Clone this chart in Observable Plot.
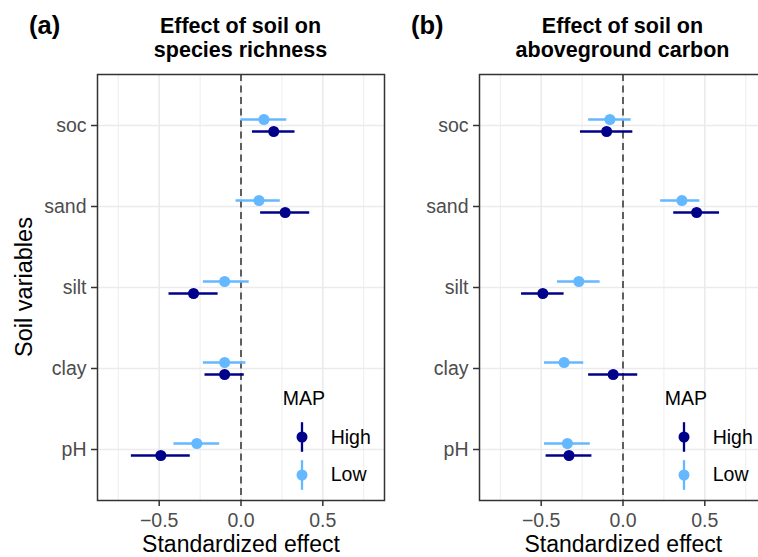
<!DOCTYPE html>
<html>
<head>
<meta charset="utf-8">
<script src="https://cdn.jsdelivr.net/npm/d3@7"></script>
<script src="https://cdn.jsdelivr.net/npm/@observablehq/plot@0.6"></script>
<style>
  html, body { margin: 0; padding: 0; background: #fff; }
  #wrap { position: relative; width: 758px; height: 557px; overflow: hidden; background: #fff;
          font-family: "Liberation Sans", Arial, sans-serif; color: #000; }
  .abs { position: absolute; white-space: nowrap; }
  .panel { position: absolute; top: 0; }
  .panel svg { max-width: none !important; }
  .panel svg text { fill: #4d4d4d; }
</style>
</head>
<body>
<div id="wrap">
  <div id="pa" class="panel" style="left:0px;width:386px"></div>
  <div id="pb" class="panel" style="left:390px;width:378px"></div>
</div>
<script>
// ---------- data ----------
const variables = ["soc", "sand", "silt", "clay", "pH"];
const seriesNames = ["High", "Low"];
const seriesColors = ["#00008B", "#63B8FF"];
const xTicks = [-0.5, 0, 0.5];
const xMinorTicks = [-0.75, -0.25, 0.25, 0.75];
const referenceLine = [0];

// Panel (a): species richness
const richHighEst = [0.20, 0.27, -0.29, -0.10, -0.49];
const richHighLo  = [0.07, 0.12, -0.44, -0.22, -0.67];
const richHighHi  = [0.33, 0.42, -0.14, 0.02, -0.31];
const richLowEst  = [0.14, 0.11, -0.10, -0.10, -0.27];
const richLowLo   = [0.00, -0.03, -0.23, -0.23, -0.41];
const richLowHi   = [0.28, 0.24, 0.05, 0.03, -0.13];

// Panel (b): aboveground carbon
const carbHighEst = [-0.10, 0.45, -0.49, -0.06, -0.33];
const carbHighLo  = [-0.26, 0.31, -0.62, -0.21, -0.47];
const carbHighHi  = [0.06, 0.59, -0.36, 0.09, -0.19];
const carbLowEst  = [-0.08, 0.36, -0.27, -0.36, -0.34];
const carbLowLo   = [-0.21, 0.23, -0.40, -0.48, -0.48];
const carbLowHi   = [0.05, 0.47, -0.14, -0.24, -0.20];

const panelTitles = [["Effect of soil on", "species richness"], ["Effect of soil on", "aboveground carbon"]];
const panelTags = ["(a)", "(b)"];
const xLabel = "Standardized effect";
const yLabel = "Soil variables";
const legendTitle = "MAP";

// ---------- build ----------
function rows(est, lo, hi, series) {
  return variables.map((v, i) => ({variable: v, est: est[i], lo: lo[i], hi: hi[i], MAP: series}));
}
const fmt = d => d.toFixed(1).replace("-", "\u2212");

function panel(high, low, width, marginLeft) {
  return Plot.plot({
    width, height: 557,
    marginLeft, marginRight: 2, marginTop: 74, marginBottom: 57,
    style: {fontFamily: "'Liberation Sans', Arial, sans-serif", fontSize: "19.5px", background: "transparent", color: "#333", overflow: "visible", maxWidth: "none"},
    x: {domain: [-0.877, 0.877]},
    y: {type: "point", domain: variables, padding: 0.6},
    color: {domain: seriesNames, range: seriesColors},
    marks: [
      Plot.gridX(xMinorTicks, {stroke: "#ebebeb", strokeOpacity: 1, strokeWidth: 0.9}),
      Plot.gridX(xTicks, {stroke: "#ebebeb", strokeOpacity: 1, strokeWidth: 1.7}),
      Plot.gridY(variables, {stroke: "#ebebeb", strokeOpacity: 1, strokeWidth: 1.7}),
      Plot.ruleX(referenceLine, {stroke: "#5e5e5e", strokeWidth: 2, strokeDasharray: "7,4.5"}),
      Plot.ruleY(low, {y: "variable", x1: "lo", x2: "hi", stroke: "MAP", strokeWidth: 2.3, dy: -6}),
      Plot.dot(low, {x: "est", y: "variable", r: 5.5, fill: "MAP", dy: -6}),
      Plot.ruleY(high, {y: "variable", x1: "lo", x2: "hi", stroke: "MAP", strokeWidth: 2.3, dy: 6}),
      Plot.dot(high, {x: "est", y: "variable", r: 5.5, fill: "MAP", dy: 6}),
      Plot.frame({stroke: "#333", strokeWidth: 1.5}),
      Plot.axisX(xTicks, {tickSize: 6, tickPadding: 7, tickFormat: fmt, label: null, stroke: "#333", strokeWidth: 1.5}),
      Plot.axisY(variables, {tickSize: 6, tickPadding: 5, label: null, stroke: "#333", strokeWidth: 1.5})
    ]
  });
}

document.getElementById("pa").appendChild(
  panel(rows(richHighEst, richHighLo, richHighHi, "High"), rows(richLowEst, richLowLo, richLowHi, "Low"), 386, 97));
document.getElementById("pb").appendChild(
  panel(rows(carbHighEst, carbHighLo, carbHighHi, "High"), rows(carbLowEst, carbLowLo, carbLowHi, "Low"), 378, 89));

// ---------- text & legends ----------
const wrap = document.getElementById("wrap");
function addText(txt, opts) {
  const d = document.createElement("div");
  d.className = "abs";
  const lines = Array.isArray(txt) ? txt : [txt];
  lines.forEach((t, i) => {
    if (i) d.appendChild(document.createElement("br"));
    d.appendChild(document.createTextNode(t));
  });
  const fs = opts.size;
  const lh = opts.lh || fs;
  d.style.fontSize = fs + "px";
  d.style.lineHeight = lh + "px";
  d.style.textAlign = "center";
  d.style.fontWeight = opts.bold ? "bold" : "normal";
  d.style.color = opts.color || "#000";
  const top = opts.baseline - ((lh - 1.117 * fs) / 2 + 0.905 * fs);
  d.style.top = top + "px";
  if (opts.center != null) {
    d.style.left = opts.center + "px";
    d.style.transform = "translateX(-50%)";
  } else {
    d.style.left = opts.left + "px";
  }
  wrap.appendChild(d);
  return d;
}

const panelCenters = [240.5, 622.5];
const panelRights = [384, 766];
const tagLefts = [29, 411];
panelCenters.forEach((cx, p) => {
  addText(panelTags[p], {size: 25.5, bold: true, left: tagLefts[p], baseline: 34.5});
  addText(panelTitles[p], {size: 21.5, bold: true, center: cx, baseline: 33.5, lh: 24.2});
  addText(xLabel, {size: 23, center: [241, 623.3][p], baseline: 552, lh: 20});

  // legend
  const r = panelRights[p];
  addText(legendTitle, {size: 19.5, left: r - 101.3, baseline: 406});
  seriesNames.forEach((s, k) => {
    const cy = [437.3, 475][k];
    const svgNS = "http://www.w3.org/2000/svg";
    const svg = document.createElementNS(svgNS, "svg");
    svg.setAttribute("width", 20); svg.setAttribute("height", 34);
    svg.style.position = "absolute";
    svg.style.left = (r - 82.3 - 10) + "px";
    svg.style.top = (cy - 17) + "px";
    const ln = document.createElementNS(svgNS, "line");
    ln.setAttribute("x1", 10); ln.setAttribute("x2", 10);
    ln.setAttribute("y1", 2.2); ln.setAttribute("y2", 31.8);
    ln.setAttribute("stroke", seriesColors[k]); ln.setAttribute("stroke-width", 2.3);
    const c = document.createElementNS(svgNS, "circle");
    c.setAttribute("cx", 10); c.setAttribute("cy", 17); c.setAttribute("r", 5.5);
    c.setAttribute("fill", seriesColors[k]);
    svg.appendChild(ln); svg.appendChild(c);
    wrap.appendChild(svg);
    addText(s, {size: 19.5, left: r - 53.3, baseline: cy + 7});
  });
});

// y-axis title (rotated)
const yl = document.createElement("div");
yl.className = "abs";
yl.textContent = yLabel;
yl.style.fontSize = "23.5px";
yl.style.lineHeight = "23.5px";
yl.style.height = "23.5px";
yl.style.left = "24.9px";
yl.style.top = "287px";
yl.style.transform = "translate(-50%, -50%) rotate(-90deg)";
wrap.appendChild(yl);
</script>
</body>
</html>
